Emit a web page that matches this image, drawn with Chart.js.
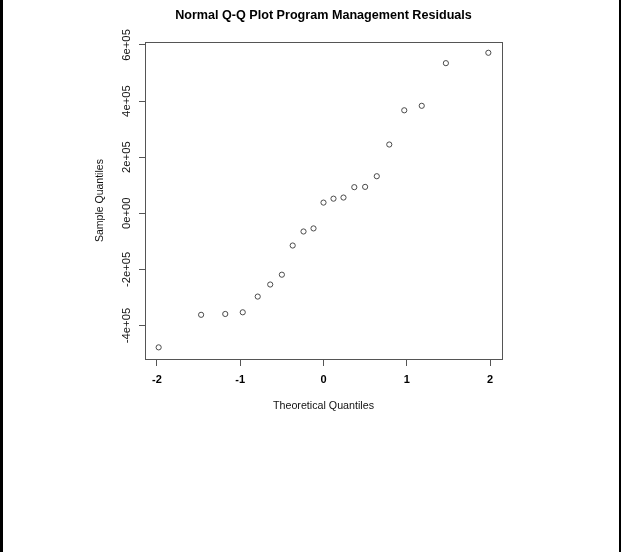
<!DOCTYPE html>
<html>
<head>
<meta charset="utf-8">
<title>Normal Q-Q Plot</title>
<script src="https://cdn.jsdelivr.net/npm/chart.js@4.4.1/dist/chart.umd.min.js"></script>
<style>
  html, body { margin: 0; padding: 0; background: #fff; }
  #wrap { position: relative; width: 621px; height: 552px; overflow: hidden; }
  #edgeL { position: absolute; left: 0; top: 0; width: 3px; height: 552px; background: #000; }
  #edgeR { position: absolute; left: 619px; top: 0; width: 2px; height: 552px; background: #000; }
</style>
</head>
<body>
<div id="wrap">
  <canvas id="qqChart" width="621" height="552"></canvas>
  <div id="edgeL"></div>
  <div id="edgeR"></div>
</div>
<script>
// theoretical normal quantiles (x) and sample residuals (y)
const theoretical = [-1.98, -1.47, -1.18, -0.97, -0.79, -0.64, -0.50, -0.37, -0.24, -0.12, 0,
                     0.12, 0.24, 0.37, 0.50, 0.64, 0.79, 0.97, 1.18, 1.47, 1.98];
const residuals = [-478000, -362000, -359000, -353000, -297000, -254000, -219000, -115000, -65000, -54000, 38000,
                   52000, 56000, 93000, 94000, 132000, 245000, 367000, 383000, 535000, 572000];

const xTicks = [-2, -1, 0, 1, 2];
const xTickLabels = ['-2', '-1', '0', '1', '2'];
const yTicks = [-400000, -200000, 0, 200000, 400000, 600000];
const yTickLabels = ['-4e+05', '-2e+05', '0e+00', '2e+05', '4e+05', '6e+05'];

const FONT = "'Liberation Sans', Arial, sans-serif";

// R style closed box round the plot region
const boxPlugin = {
  id: 'plotBox',
  beforeDatasetsDraw(chart) {
    const { ctx, chartArea: a } = chart;
    ctx.save();
    ctx.strokeStyle = '#555';
    ctx.lineWidth = 1;
    ctx.strokeRect(Math.round(a.left) + 0.5, Math.round(a.top) + 0.5,
                   Math.round(a.right - a.left), Math.round(a.bottom - a.top));
    ctx.restore();
  }
};

const ctx = document.getElementById('qqChart').getContext('2d');
new Chart(ctx, {
  type: 'scatter',
  data: {
    datasets: [{
      data: theoretical.map((x, i) => ({ x: x, y: residuals[i] })),
      pointStyle: 'circle',
      pointRadius: 2.6,
      borderWidth: 1,
      borderColor: '#4a4a4a',
      backgroundColor: 'rgba(0,0,0,0)'
    }]
  },
  options: {
    responsive: false,
    animation: false,
    layout: { padding: { left: 0, right: 119, top: 0, bottom: 133 } },
    plugins: {
      legend: { display: false },
      tooltip: { enabled: false },
      title: {
        display: true,
        fullSize: false,
        text: 'Normal Q-Q Plot Program Management Residuals',
        color: '#000',
        font: { family: FONT, size: 12.6, weight: 'bold' },
        padding: { top: 8, bottom: 19 }
      }
    },
    scales: {
      x: {
        type: 'linear',
        min: -2.144,
        max: 2.144,
        afterBuildTicks: s => { s.ticks = xTicks.map(v => ({ value: v })); },
        afterFit: s => { s.height = 60; },
        border: { display: false },
        grid: { drawOnChartArea: false, drawTicks: true, tickLength: 7, color: '#555' },
        ticks: {
          autoSkip: false,
          maxRotation: 0,
          padding: 7,
          color: '#000',
          font: { family: FONT, size: 11, weight: 'bold' },
          callback: v => xTickLabels[xTicks.indexOf(v)]
        },
        title: {
          display: true,
          text: 'Theoretical Quantiles',
          color: '#111',
          font: { family: FONT, size: 10.7 },
          padding: { top: 0, bottom: 6.6 }
        }
      },
      y: {
        type: 'linear',
        min: -519500,
        max: 610000,
        afterBuildTicks: s => { s.ticks = yTicks.map(v => ({ value: v })); },
        afterFit: s => { s.width = 145; },
        border: { display: false },
        grid: { drawOnChartArea: false, drawTicks: true, tickLength: 6, color: '#555' },
        ticks: {
          autoSkip: false,
          minRotation: 90,
          maxRotation: 90,
          crossAlign: 'center',
          padding: -6,
          color: '#111',
          font: { family: FONT, size: 11.3 },
          callback: v => yTickLabels[yTicks.indexOf(v)]
        },
        title: {
          display: true,
          text: 'Sample Quantiles',
          color: '#111',
          font: { family: FONT, size: 10.5 },
          padding: { top: 93.7, bottom: 0 }
        }
      }
    }
  },
  plugins: [boxPlugin]
});
</script>
</body>
</html>
